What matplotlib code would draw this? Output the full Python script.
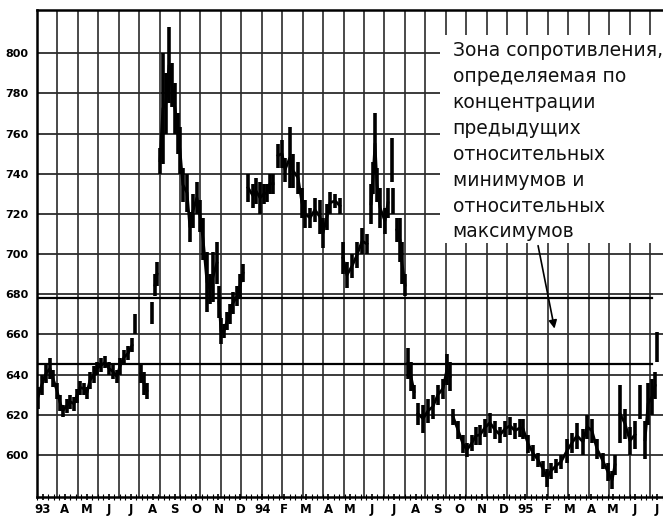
import numpy as np
import matplotlib.pyplot as plt
from matplotlib.patches import Rectangle

# x axis: month index, 0 = "93"
month_labels = ['93', 'A', 'M', 'J', 'J', 'A', 'S', 'O', 'N', 'D',
                '94', 'F', 'M', 'A', 'M', 'J', 'J', 'A', 'S', 'O', 'N', 'D',
                '95', 'F', 'M', 'A', 'M', 'J', 'J']
price_ticks = list(range(600, 801, 20))
zone_levels = [678, 645]

note = ("Зона сопротивления,\nопределяемая по\nконцентрации\nпредыдущих\n"
        "относительных\nминимумов и\nотносительных\nмаксимумов")

t = [-0.23, -0.05, 0.14, 0.32, 0.46, 0.64, 0.78, 0.91, 1.09, 1.23, 1.41, 1.55,
     1.69, 1.87, 2.01, 2.14, 2.33, 2.46, 2.64, 2.83, 3.01, 3.19, 3.37, 3.51,
     3.69, 3.88, 4.06, 4.20, 4.47, 4.61, 4.74, 4.97, 5.11, 5.20, 5.34, 5.47,
     5.61, 5.75, 5.88, 6.02, 6.16, 6.25, 6.38, 6.57, 6.70, 6.84, 7.02, 7.16,
     7.30, 7.48, 7.62, 7.75, 7.93, 8.03, 8.12, 8.25, 8.39, 8.53, 8.66, 8.85,
     8.98, 9.12, 9.35, 9.58, 9.71, 9.90, 10.08, 10.21, 10.35, 10.49, 10.72,
     10.90, 11.04, 11.26, 11.40, 11.63, 11.81, 11.95, 12.18, 12.40, 12.63,
     12.77, 12.95, 13.09, 13.32, 13.54, 13.68, 13.86, 14.09, 14.32, 14.55,
     14.77, 14.96, 15.05, 15.14, 15.23, 15.37, 15.59, 15.73, 15.91, 15.96,
     16.14, 16.28, 16.37, 16.51, 16.64, 16.78, 16.92, 17.10, 17.33, 17.56,
     17.78, 18.01, 18.24, 18.42, 18.56, 18.70, 18.92, 19.15, 19.33, 19.56,
     19.74, 19.93, 20.15, 20.38, 20.61, 20.84, 21.07, 21.30, 21.52, 21.75,
     21.89, 22.12, 22.34, 22.57, 22.80, 22.98, 23.16, 23.39, 23.62, 23.89,
     24.12, 24.35, 24.62, 24.81, 25.03, 25.26, 25.53, 25.76, 25.95, 26.08,
     26.31, 26.54, 26.76, 26.99, 27.22, 27.45, 27.59, 27.77, 27.91, 28.00]

high = [634, 640, 645, 648, 642, 636, 630, 625, 628, 630, 629, 633,
        637, 636, 634, 641, 644, 646, 648, 649, 646, 645, 642, 648,
        652, 654, 658, 670, 645, 641, 636, 676, 690, 696, 753, 800,
        790, 813, 795, 785, 770, 763, 743, 740, 721, 730, 736, 727,
        718, 701, 690, 701, 706, 684, 668, 665, 671, 675, 681, 684,
        690, 695, 740, 735, 738, 736, 735, 735, 740, 740, 755,
        757, 748, 763, 750, 746, 733, 727, 723, 728, 727,
        718, 725, 731, 730, 728, 706, 696, 700, 706, 713,
        710, 735, 746, 770, 743, 733, 723, 733, 758, 733,
        718, 718, 706, 690, 653, 646, 635, 626, 625, 628,
        630, 635, 638, 650, 646, 623, 617, 610, 606, 610,
        614, 615, 618, 621, 617, 614, 617, 619, 616, 618,
        618, 610, 605, 601, 597, 593, 596, 598, 600, 608,
        611, 616, 613, 620, 618, 608, 601, 596, 592, 600,
        635, 623, 614, 617, 635, 617, 636, 638, 641, 661]

low = [623, 630, 636, 638, 634, 628, 622, 619, 621, 623, 622, 626,
       630, 630, 628, 633, 636, 640, 641, 643, 640, 638, 636, 640,
       645, 647, 651, 660, 636, 630, 628, 665, 679, 684, 740, 745,
       760, 775, 773, 760, 750, 740, 726, 721, 706, 713, 720, 711,
       697, 671, 675, 676, 685, 668, 655, 658, 662, 665, 670, 674,
       678, 686, 726, 723, 725, 720, 725, 726, 730, 730, 743,
       743, 736, 733, 733, 730, 718, 713, 713, 716, 710,
       703, 712, 720, 723, 720, 690, 683, 688, 693, 700,
       700, 715, 730, 740, 726, 713, 710, 718, 736, 720,
       706, 696, 685, 679, 638, 632, 628, 615, 611, 616,
       618, 625, 628, 635, 632, 615, 608, 601, 599, 602,
       605, 605, 609, 611, 608, 606, 609, 610, 608, 609,
       608, 601, 597, 594, 589, 584, 588, 591, 593, 596,
       601, 603, 600, 608, 606, 598, 593, 587, 583, 590,
       606, 608, 600, 603, 618, 598, 615, 620, 628, 646]

t = np.array(t)
high = np.array(high)
low = np.array(low)

fig = plt.figure(figsize=(6.63, 5.16), dpi=100)
ax = fig.add_axes([0.0558, 0.0368, 0.9442, 0.9438])
ax.set_xlim(-0.27, 28.27)
ax.set_ylim(579, 821.5)

# chart paper grid
for v in price_ticks:
    ax.axhline(v, color='#1a1a1a', lw=1.2, zorder=1)
for xv in np.arange(-0.27 + 0.9316, 28.27, 0.9316):
    ax.axvline(xv, color='#2b2b2b', lw=1.2, zorder=1)

# resistance zone
for z in zone_levels:
    ax.axhline(z, xmin=0, xmax=0.982, color='black', lw=1.6, zorder=2)

# price bars
ax.vlines(t, low, high, color='black', lw=2.6, zorder=5)
mid = (high + low) / 2.0
gap = (low[1:] > high[:-1]) | (high[1:] < low[:-1])
start = 0
for i in np.where(gap)[0]:
    ax.plot(t[start:i + 1], mid[start:i + 1], color='black', lw=2.0, zorder=5)
    start = i + 1
ax.plot(t[start:], mid[start:], color='black', lw=2.0, zorder=5)

# annotation
ax.add_patch(Rectangle((0.644, 0.522), 0.356, 0.427, transform=ax.transAxes,
                       facecolor='white', edgecolor='none', zorder=3))
ax.text(0.664, 0.936, note, transform=ax.transAxes, ha='left', va='top',
        fontsize=13.5, linespacing=1.46, color='#111111', zorder=6)
ax.annotate('', xy=(23.35, 661.5), xytext=(22.55, 705.5),
            arrowprops=dict(arrowstyle='-|>', lw=1.2, color='black',
                            mutation_scale=12), zorder=6)

# axes
ax.set_xticks(range(len(month_labels)))
ax.set_xticklabels(month_labels)
ax.set_xticks(np.arange(-0.25, 28.3, 0.25), minor=True)
ax.set_yticks(price_ticks)
ax.tick_params(axis='x', which='major', length=5, width=1.2, direction='inout',
               pad=2, labelsize=8.5)
ax.tick_params(axis='x', which='minor', length=4, width=0.8, direction='inout')
ax.tick_params(axis='y', length=0, pad=6, labelsize=8)
plt.setp(ax.get_xticklabels() + ax.get_yticklabels(), fontweight='heavy')

ax.spines['right'].set_visible(False)
for s in ['top', 'left', 'bottom']:
    ax.spines[s].set_linewidth(1.8)

fig.savefig('out.png', dpi=100)
